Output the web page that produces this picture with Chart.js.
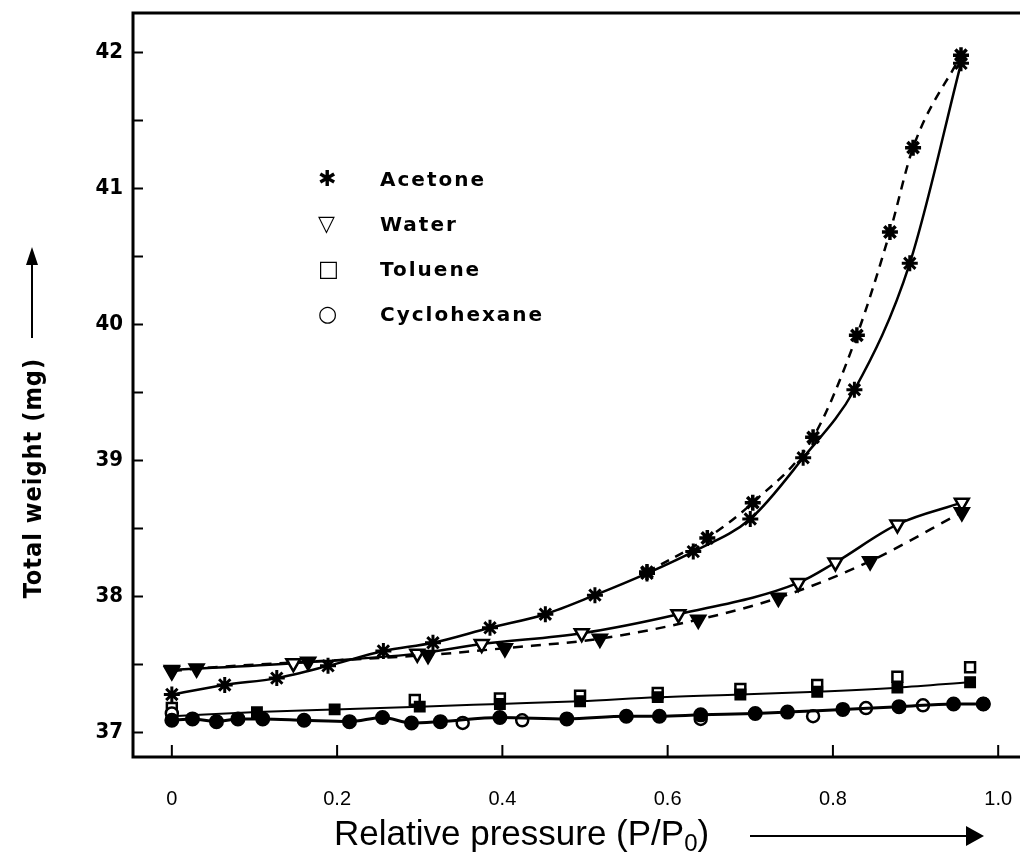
<!DOCTYPE html>
<html>
<head>
<meta charset="utf-8">
<script src="https://cdn.jsdelivr.net/npm/chart.js@4.4.1/dist/chart.umd.min.js"></script>
<style>
  body { margin: 0; background: #fff; }
  #wrap { position: relative; width: 1020px; height: 865px; overflow: hidden; }
  #chart { position: absolute; left: 0; top: 0; }
  .ytitle {
    position: absolute; left: 32px; top: 478px;
    transform: translate(-50%, -50%) rotate(-90deg);
    font: bold 25px 'DejaVu Sans Condensed', 'DejaVu Sans', sans-serif; letter-spacing: 1px; white-space: nowrap;
  }
  .yarrow { position: absolute; left: 31px; top: 262px; width: 2px; height: 76px; background: #000; }
  .yarrow-head {
    position: absolute; left: 26px; top: 247px; width: 0; height: 0;
    border-left: 6px solid transparent; border-right: 6px solid transparent; border-bottom: 18px solid #000;
  }
  .xtitle {
    position: absolute; left: 334px; top: 813px;
    font: 35px 'Liberation Sans', Arial, sans-serif; white-space: nowrap;
  }
  .xtitle sub { font-size: 24px; vertical-align: -6px; }
  .xarrow { position: absolute; left: 750px; top: 835px; width: 218px; height: 2px; background: #000; }
  .xarrow-head {
    position: absolute; left: 966px; top: 826px; width: 0; height: 0;
    border-top: 10px solid transparent; border-bottom: 10px solid transparent; border-left: 18px solid #000;
  }
  .legend { position: absolute; left: 318px; top: 166px; font: bold 20px 'DejaVu Sans', sans-serif; letter-spacing: 2px; }
  .legend div { height: 45px; line-height: 26px; white-space: nowrap; }
  .legend .mk { display: inline-block; width: 62px; text-align: left; font-size: 22px; font-weight: bold; letter-spacing: 0; }
</style>
</head>
<body>
<div id="wrap">
  <!-- canvas is a bit wider than the window: the end label room falls outside -->
  <canvas id="chart" width="1032" height="865"></canvas>
  <div class="ytitle">Total weight (mg)</div>
  <div class="yarrow"></div>
  <div class="yarrow-head"></div>
  <div class="xtitle">Relative pressure (P/P<sub>0</sub>)</div>
  <div class="xarrow"></div>
  <div class="xarrow-head"></div>
  <div class="legend">
    <div><span class="mk">&#x2731;</span>Acetone</div>
    <div><span class="mk">&#x25BD;</span>Water</div>
    <div><span class="mk">&#x25A1;</span>Toluene</div>
    <div><span class="mk">&#x25CB;</span>Cyclohexane</div>
  </div>
</div>
<script>
//----------------------------- DATA ---------------------------------//
const xTickValues = [0, 0.2, 0.4, 0.6, 0.8, 1.0];
const xTickLabels = ['0', '0.2', '0.4', '0.6', '0.8', '1.0'];
const yTickValues = [37, 37.5, 38, 38.5, 39, 39.5, 40, 40.5, 41, 41.5, 42];
const yTickLabels = ['37', '', '38', '', '39', '', '40', '', '41', '', '42'];

// acetone, adsorption (solid) and desorption (dashed)
const acetoneAdsX = [0.0, 0.064, 0.127, 0.189, 0.256, 0.316, 0.385, 0.452, 0.512, 0.575, 0.631, 0.700, 0.764, 0.826, 0.893, 0.955];
const acetoneAdsY = [37.28, 37.35, 37.40, 37.49, 37.60, 37.66, 37.77, 37.87, 38.01, 38.17, 38.33, 38.57, 39.02, 39.52, 40.45, 41.92];
const acetoneDesX = [0.575, 0.648, 0.703, 0.776, 0.829, 0.869, 0.897, 0.955];
const acetoneDesY = [38.18, 38.43, 38.69, 39.17, 39.92, 40.68, 41.30, 41.98];

// water
const waterAdsX = [0.0, 0.147, 0.297, 0.375, 0.496, 0.613, 0.758, 0.803, 0.878, 0.956];
const waterAdsY = [37.46, 37.51, 37.58, 37.65, 37.73, 37.87, 38.10, 38.25, 38.53, 38.69];
const waterDesX = [0.0, 0.03, 0.165, 0.31, 0.403, 0.518, 0.637, 0.734, 0.845, 0.956];
const waterDesY = [37.45, 37.47, 37.52, 37.57, 37.62, 37.69, 37.83, 37.99, 38.26, 38.62];

// toluene
const tolueneX = [0.0, 0.103, 0.197, 0.30, 0.397, 0.494, 0.588, 0.688, 0.781, 0.878, 0.966];
const tolueneY = [37.12, 37.15, 37.17, 37.19, 37.21, 37.23, 37.26, 37.28, 37.30, 37.33, 37.37];
const toluene2X = [0.0, 0.294, 0.397, 0.494, 0.588, 0.688, 0.781, 0.878, 0.966];
const toluene2Y = [37.18, 37.24, 37.25, 37.27, 37.29, 37.32, 37.35, 37.41, 37.48];

// cyclohexane
const cyclohexX = [0.0, 0.025, 0.054, 0.08, 0.11, 0.16, 0.215, 0.255, 0.29, 0.325, 0.397, 0.478, 0.55, 0.59, 0.64, 0.706, 0.745, 0.812, 0.88, 0.946, 0.982];
const cyclohexY = [37.09, 37.10, 37.08, 37.10, 37.10, 37.09, 37.08, 37.11, 37.07, 37.08, 37.11, 37.10, 37.12, 37.12, 37.13, 37.14, 37.15, 37.17, 37.19, 37.21, 37.21];
const cyclohex2X = [0.0, 0.352, 0.424, 0.64, 0.776, 0.84, 0.909, 0.982];
const cyclohex2Y = [37.14, 37.07, 37.09, 37.10, 37.12, 37.18, 37.20, 37.21];

//---------------------------- HELPERS --------------------------------//
function pts(xs, ys) {
    return xs.map((x, i) => ({ x: x, y: ys[i] }));
}

function series(label, xs, ys, style) {
    return Object.assign({
        label: label,
        data: pts(xs, ys),
        borderColor: '#000',
        pointBorderColor: '#000',
        showLine: true,
        cubicInterpolationMode: 'monotone',
        fill: false
    }, style);
}

// no extra room for the end tick labels
function noPad(s) {
    s.paddingLeft = 0;
    s.paddingRight = 0;
    s.paddingTop = 0;
    s.paddingBottom = 0;
}

// frame + inward ticks
const framePlugin = {
    id: 'frame',
    afterDraw(chart) {
        const ctx = chart.ctx;
        const a = chart.chartArea;
        const xs = chart.scales.x;
        const ys = chart.scales.y;
        ctx.save();
        ctx.strokeStyle = '#000';
        ctx.lineWidth = 3;
        ctx.beginPath();
        ctx.moveTo(a.right, a.top);
        ctx.lineTo(a.left, a.top);
        ctx.lineTo(a.left, a.bottom);
        ctx.lineTo(a.right, a.bottom);
        ctx.stroke();
        ctx.lineWidth = 2;
        ctx.beginPath();
        ys.ticks.forEach(t => {
            const py = ys.getPixelForValue(t.value);
            ctx.moveTo(a.left, py);
            ctx.lineTo(a.left + 10, py);
        });
        xs.ticks.forEach(t => {
            const px = xs.getPixelForValue(t.value);
            ctx.moveTo(px, a.bottom);
            ctx.lineTo(px, a.bottom - 12);
        });
        ctx.stroke();
        ctx.restore();
    }
};

//----------------------------- CHART ---------------------------------//
const ctx = document.getElementById('chart').getContext('2d');
new Chart(ctx, {
    type: 'scatter',
    data: {
        datasets: [
            series('Cyclohexane', cyclohexX, cyclohexY, {
                borderWidth: 3, pointStyle: 'circle', pointRadius: 6,
                pointBackgroundColor: '#000', tension: 0.3
            }),
            series('Cyclohexane (open)', cyclohex2X, cyclohex2Y, {
                showLine: false, pointStyle: 'circle', pointRadius: 6,
                pointBorderWidth: 2.5, pointBackgroundColor: '#fff'
            }),
            series('Toluene', tolueneX, tolueneY, {
                borderWidth: 2, pointStyle: 'rect', pointRadius: 7,
                pointBackgroundColor: '#000'
            }),
            series('Toluene (open)', toluene2X, toluene2Y, {
                showLine: false, pointStyle: 'rect', pointRadius: 7,
                pointBorderWidth: 2.5, pointBackgroundColor: '#fff'
            }),
            series('Water desorption', waterDesX, waterDesY, {
                borderWidth: 2.5, borderDash: [10, 8], pointStyle: 'triangle', pointRotation: 180,
                pointRadius: 8, pointBackgroundColor: '#000'
            }),
            series('Water', waterAdsX, waterAdsY, {
                borderWidth: 2.5, pointStyle: 'triangle', pointRotation: 180,
                pointRadius: 8, pointBorderWidth: 2.5, pointBackgroundColor: '#fff'
            }),
            series('Acetone desorption', acetoneDesX, acetoneDesY, {
                borderWidth: 2.5, borderDash: [9, 7], pointStyle: 'star',
                pointRadius: 8, pointBorderWidth: 3.5, pointBackgroundColor: '#000'
            }),
            series('Acetone', acetoneAdsX, acetoneAdsY, {
                borderWidth: 2.5, pointStyle: 'star',
                pointRadius: 8, pointBorderWidth: 3, pointBackgroundColor: '#000'
            })
        ]
    },
    options: {
        responsive: false,
        animation: false,
        devicePixelRatio: 1,
        layout: { padding: { top: 13, right: 0, left: 0, bottom: 0 } },
        plugins: { legend: { display: false }, tooltip: { enabled: false } },
        scales: {
            x: {
                type: 'linear',
                min: -0.047,
                max: 1.027,
                afterBuildTicks: s => { s.ticks = xTickValues.map(v => ({ value: v })); },
                afterFit: s => { s.height = 108; noPad(s); },
                grid: { display: false, drawTicks: false },
                border: { display: false },
                ticks: {
                    callback: (v, i) => xTickLabels[i],
                    color: '#000',
                    padding: 30,
                    maxRotation: 0,
                    autoSkip: false,
                    font: { family: "'Liberation Sans Narrow', 'Liberation Sans', Arial", size: 20 }
                }
            },
            y: {
                type: 'linear',
                min: 36.82,
                max: 42.29,
                afterBuildTicks: s => { s.ticks = yTickValues.map(v => ({ value: v })); },
                afterFit: s => { s.width = 133; noPad(s); },
                grid: { display: false, drawTicks: false },
                border: { display: false },
                ticks: {
                    callback: (v, i) => yTickLabels[i],
                    color: '#000',
                    padding: 10,
                    autoSkip: false,
                    font: { family: "'DejaVu Sans Condensed', 'DejaVu Sans'", size: 22, weight: 'bold' }
                }
            }
        }
    },
    plugins: [framePlugin]
});
</script>
</body>
</html>
